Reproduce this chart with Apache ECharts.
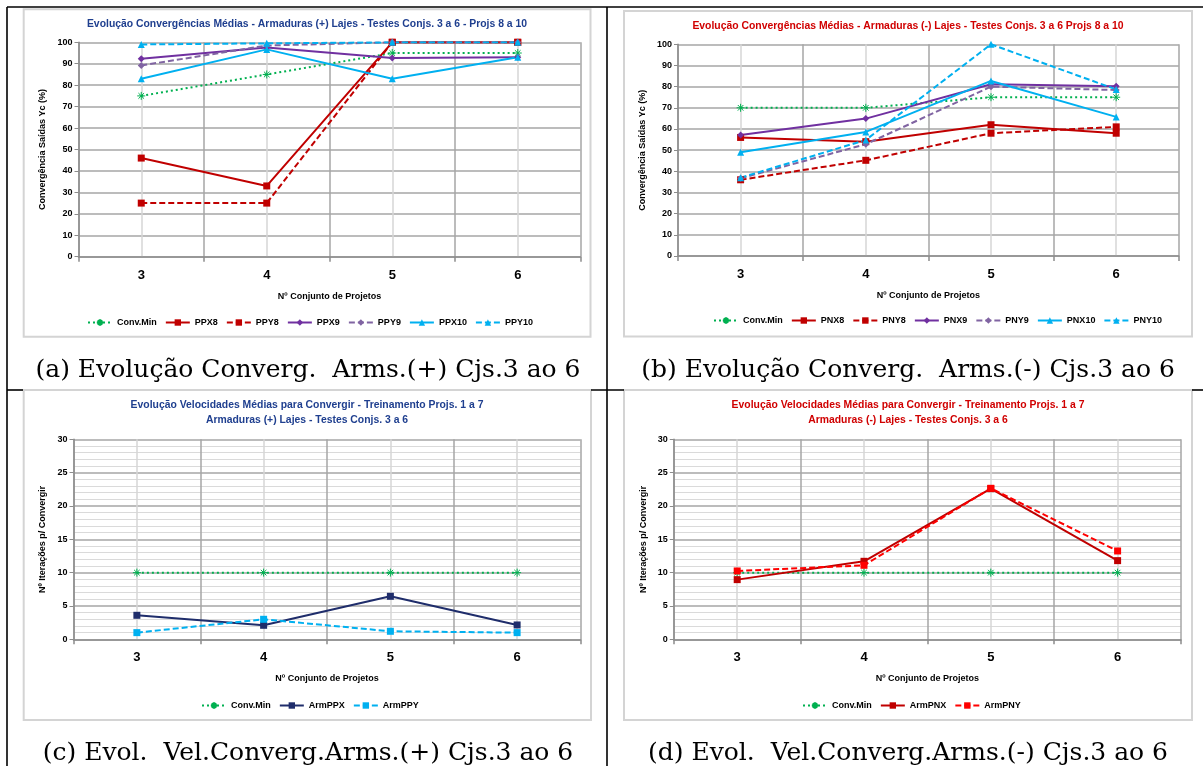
<!DOCTYPE html>
<html><head><meta charset="utf-8">
<script src="https://cdn.jsdelivr.net/npm/echarts@6/dist/echarts.min.js"></script>
<style>html,body{margin:0;padding:0;background:#fff}#c{width:1203px;height:766px}</style>
</head><body><div id="c"></div>
<script>
// ---------- data ----------
const categories = ['3', '4', '5', '6'];
// (a) Armaduras (+) convergence %
const aConvMin = [75, 85, 95, 95];
const aPPX8 = [46, 33, 100, 100];
const aPPY8 = [25, 25, 100, 100];
const aPPX9 = [92.3, 97.6, 92.7, 93];
const aPPY9 = [89.2, 98.5, 100, 100];
const aPPX10 = [83, 96.7, 83, 93];
const aPPY10 = [99, 99.5, 100, 100];
// (b) Armaduras (-) convergence %
const bConvMin = [70, 70, 75, 75];
const bPNX8 = [56, 54, 62, 58];
const bPNY8 = [36, 45.2, 58, 61];
const bPNX9 = [57.2, 64.9, 81.1, 80.2];
const bPNY9 = [36.7, 52.8, 80, 78.4];
const bPNX10 = [49, 58.6, 82.7, 65.7];
const bPNY10 = [37, 54.8, 100, 78.7];
// (c) iterations (+)
const cConvMin = [10, 10, 10, 10];
const cArmPPX = [3.6, 2.1, 6.45, 2.15];
const cArmPPY = [1.0, 3.0, 1.2, 1.0];
// (d) iterations (-)
const dConvMin = [10, 10, 10, 10];
const dArmPNX = [8.95, 11.7, 22.6, 11.8];
const dArmPNY = [10.25, 11.1, 22.65, 13.25];

const titles = [
  'Evolução Convergências Médias - Armaduras (+) Lajes - Testes Conjs. 3 a 6 - Projs 8 a 10',
  'Evolução Convergências Médias - Armaduras (-) Lajes - Testes Conjs. 3 a 6 Projs 8 a 10',
  'Evolução Velocidades Médias para Convergir - Treinamento Projs. 1 a 7\nArmaduras (+) Lajes - Testes Conjs. 3 a 6',
  'Evolução Velocidades Médias para Convergir - Treinamento Projs. 1 a 7\nArmaduras (-) Lajes - Testes Conjs. 3 a 6'
];
const captions = [
  '(a) Evolução Converg.  Arms.(+) Cjs.3 ao 6',
  '(b) Evolução Converg.  Arms.(-) Cjs.3 ao 6',
  '(c) Evol.  Vel.Converg.Arms.(+) Cjs.3 ao 6',
  '(d) Evol.  Vel.Converg.Arms.(-) Cjs.3 ao 6'
];
const xName = 'Nº Conjunto de Projetos';
const yNames = ['Convergência Saídas Yc (%)', 'Convergência Saídas Yc (%)', 'Nº Iterações p/ Convergir', 'Nº Iterações p/ Convergir'];

// ---------- styling ----------
const FONT = "'Liberation Sans',Arial,sans-serif";
const BLUE_T = '#1F3F8F', RED_T = '#D00000';
const GREEN = '#00B050', DRED = '#C00000', PURPLE = '#7030A0', LPURPLE = '#8064A2', CYAN = '#00B0F0', NAVY = '#1F2D6B', RED = '#FF0000';
const STAR = 'path://M0,5L10,5M5,0L5,10M1.5,1.5L8.5,8.5M8.5,1.5L1.5,8.5';

const grids = [
  {left: 78.5, top: 42.3, right: 622.5, bottom: 509.3},
  {left: 678, top: 44.3, right: 24.2, bottom: 510},
  {left: 73.5, top: 439.3, right: 622.5, bottom: 126.7},
  {left: 673.8, top: 439.3, right: 22, bottom: 126.7}
];

function ser(name, data, g, color, type, symbol, size) {
  const o = {
    name, type: 'line', data, xAxisIndex: 2 * g, yAxisIndex: g,
    symbol, symbolSize: size, showSymbol: true,
    lineStyle: {color, width: 2, type: type},
    itemStyle: {color: color, borderColor: color, borderWidth: symbol === STAR ? 1 : 0},
    emphasis: {disabled: true}, animation: false
  };
  if (symbol === STAR) { o.itemStyle.color = 'rgba(0,0,0,0)'; }
  return o;
}
const DOT = [2, 3], DASH = [6, 3];

const series = [
  ser('Conv.Min', aConvMin, 0, GREEN, DOT, STAR, 8),
  ser('PPX8', aPPX8, 0, DRED, 'solid', 'rect', 7),
  ser('PPY8', aPPY8, 0, DRED, DASH, 'rect', 7),
  ser('PPX9', aPPX9, 0, PURPLE, 'solid', 'diamond', 7),
  ser('PPY9', aPPY9, 0, LPURPLE, DASH, 'diamond', 7),
  ser('PPX10', aPPX10, 0, CYAN, 'solid', 'triangle', 7),
  ser('PPY10', aPPY10, 0, CYAN, DASH, 'triangle', 7),

  ser('Conv.Min', bConvMin, 1, GREEN, DOT, STAR, 8),
  ser('PNX8', bPNX8, 1, DRED, 'solid', 'rect', 7),
  ser('PNY8', bPNY8, 1, DRED, DASH, 'rect', 7),
  ser('PNX9', bPNX9, 1, PURPLE, 'solid', 'diamond', 7),
  ser('PNY9', bPNY9, 1, LPURPLE, DASH, 'diamond', 7),
  ser('PNX10', bPNX10, 1, CYAN, 'solid', 'triangle', 7),
  ser('PNY10', bPNY10, 1, CYAN, DASH, 'triangle', 7),

  ser('Conv.Min', cConvMin, 2, GREEN, DOT, STAR, 8),
  ser('ArmPPX', cArmPPX, 2, NAVY, 'solid', 'rect', 7),
  ser('ArmPPY', cArmPPY, 2, CYAN, DASH, 'rect', 7),

  ser('Conv.Min', dConvMin, 3, GREEN, DOT, STAR, 8),
  ser('ArmPNX', dArmPNX, 3, DRED, 'solid', 'rect', 7),
  ser('ArmPNY', dArmPNY, 3, RED, DASH, 'rect', 7)
];

const xAxes = [], yAxes = [];
for (let g = 0; g < 4; g++) {
  xAxes.push({
    type: 'category', gridIndex: g, data: categories, boundaryGap: true, position: 'bottom',
    axisLine: {lineStyle: {color: '#8c8c8c', width: 1.5}},
    axisTick: {show: true, length: 5, lineStyle: {color: '#8c8c8c', width: 1.5}},
    axisLabel: {fontFamily: FONT, fontSize: 13, fontWeight: 'bold', color: '#000', margin: 12},
    splitLine: {show: true, lineStyle: {color: '#a6a6a6', width: 1.5}},
    name: xName, nameLocation: 'middle', nameGap: 35,
    nameTextStyle: {fontFamily: FONT, fontSize: 9, fontWeight: 'bold', color: '#000'}
  });
  xAxes.push({
    type: 'value', gridIndex: g, min: 2.5, max: 6.5, interval: 0.5, position: 'top',
    axisLine: {show: false}, axisTick: {show: false}, axisLabel: {show: false},
    splitLine: {show: true, lineStyle: {color: ['rgba(0,0,0,0)', '#d6d6d6'], width: 1.5}}
  });
  const pct = g < 2;
  yAxes.push({
    type: 'value', gridIndex: g, min: 0, max: pct ? 100 : 30, interval: pct ? 10 : 5,
    axisLine: {show: true, lineStyle: {color: '#8c8c8c', width: 1.5}},
    axisTick: {show: true, length: 4, lineStyle: {color: '#8c8c8c'}},
    axisLabel: {fontFamily: FONT, fontSize: 9, fontWeight: 'bold', color: '#000', margin: 6},
    splitLine: {show: true, lineStyle: {color: '#a6a6a6', width: 1.5}},
    minorTick: {show: false, splitNumber: 5},
    minorSplitLine: {show: !pct, lineStyle: {color: '#dadada', width: 1}},
    name: yNames[g], nameLocation: 'middle', nameRotate: 90, nameGap: pct ? 31 : 26,
    nameTextStyle: {fontFamily: FONT, fontSize: 9, fontWeight: 'bold', color: '#000'}
  });
}

const titleCfg = [
  {x: 307, y: 17, color: BLUE_T},
  {x: 908, y: 19, color: RED_T},
  {x: 307, y: 398, color: BLUE_T},
  {x: 908, y: 398, color: RED_T}
];
const title = titles.map((t, i) => ({
  text: t, left: titleCfg[i].x, top: titleCfg[i].y, textAlign: 'center', padding: 0,
  textStyle: {fontFamily: FONT, fontSize: 10.4, fontWeight: 'bold', color: titleCfg[i].color, lineHeight: 15}
}));

const legendNames = [
  ['Conv.Min', 'PPX8', 'PPY8', 'PPX9', 'PPY9', 'PPX10', 'PPY10'],
  ['Conv.Min', 'PNX8', 'PNY8', 'PNX9', 'PNY9', 'PNX10', 'PNY10'],
  ['Conv.Min', 'ArmPPX', 'ArmPPY'],
  ['Conv.Min', 'ArmPNX', 'ArmPNY']
];
const legendPos = [{x: 87, y: 318}, {x: 713, y: 316}, {x: 201, y: 701}, {x: 802, y: 701}];
const legend = legendNames.map((d, i) => ({
  data: d, left: legendPos[i].x, top: legendPos[i].y, padding: 0,
  itemWidth: 24, itemHeight: 8, itemGap: 8, selectedMode: false,
  textStyle: {fontFamily: FONT, fontSize: 9, fontWeight: 'bold', color: '#000'}
}));

// ---------- layout decorations ----------
const graphic = [];
const frames = [[23.7, 9.3, 590.5, 336.7], [624, 11, 1192, 336.5], [23.7, 390, 591, 720], [624, 390, 1192, 720]];
frames.forEach(f => graphic.push({type: 'rect', shape: {x: f[0], y: f[1], width: f[2] - f[0], height: f[3] - f[1]},
  style: {fill: 'none', stroke: '#d4d4d4', lineWidth: 2}, silent: true, z: -10}));
const lines = [[7, 7, 1203, 7], [7, 7, 7, 766], [607, 7, 607, 766], [7, 390, 23, 390], [591, 390, 624, 390], [1192, 390, 1203, 390]];
lines.forEach(l => graphic.push({type: 'line', shape: {x1: l[0], y1: l[1], x2: l[2], y2: l[3]},
  style: {stroke: '#000', lineWidth: 1.6}, silent: true}));
const capPos = [[308, 370], [908, 370], [308, 753], [908, 753]];
captions.forEach((c, i) => graphic.push({type: 'text', x: capPos[i][0], y: capPos[i][1],
  style: {text: c, font: "25px 'DejaVu Serif', serif", fill: '#000', textAlign: 'center', textVerticalAlign: 'middle'}, silent: true}));

const chart = echarts.init(document.getElementById('c'), null, {renderer: 'canvas'});
chart.setOption({
  animation: false, backgroundColor: '#fff',
  title, legend, grid: grids, xAxis: xAxes, yAxis: yAxes, series, graphic
});
</script></body></html>
